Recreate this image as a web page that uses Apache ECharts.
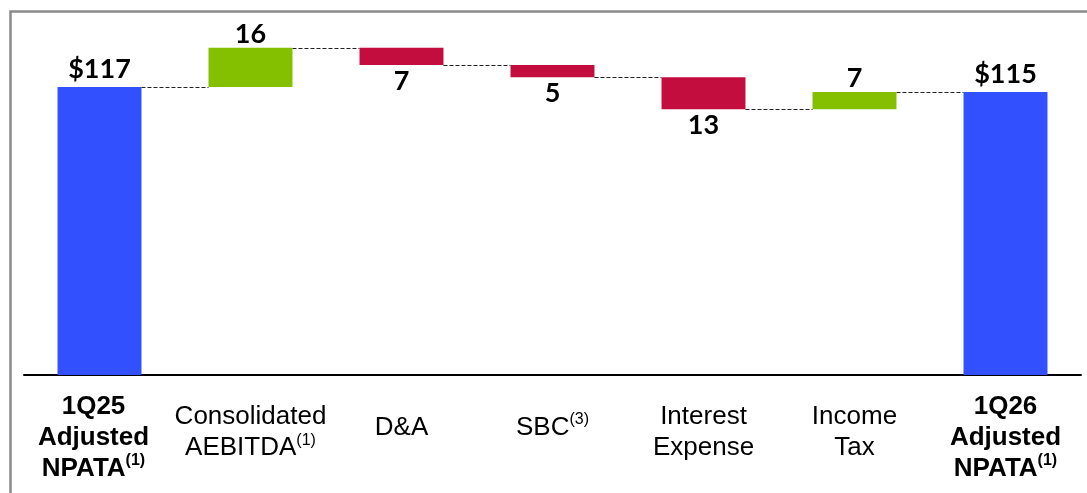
<!DOCTYPE html>
<html>
<head>
<meta charset="utf-8">
<title>Adjusted NPATA bridge</title>
<script src="https://cdn.jsdelivr.net/npm/echarts@6/dist/echarts.min.js"></script>
<style>
  html, body { margin: 0; padding: 0; background: #fff; }
  #main { width: 1087px; height: 493px; }
</style>
</head>
<body>
<div id="main"></div>
<script>
// axis categories, one entry per printed line
const categoryLines = [
    ['1Q25', 'Adjusted', 'NPATA'],
    ['Consolidated', 'AEBITDA'],
    ['D&A'],
    ['SBC'],
    ['Interest', 'Expense'],
    ['Income', 'Tax'],
    ['1Q26', 'Adjusted', 'NPATA']
];
const footnotes = ['(1)', '(1)', '', '(3)', '', '', '(1)'];
const isTotal = [true, false, false, false, false, false, true];

// values
const startValue = 117;
const changes = [16, -7, -5, -13, 7];
const endValue = 115;
const valueLabels = ['$117', '16', '7', '5', '13', '7', '$115'];

const BLUE = '#3350ff';
const GREEN = '#84c000';
const RED = '#c30d3e';
const BAR_RATIO = 0.556;

// build the waterfall: invisible base + visible bar
const baseData = [];
const barData = [];
const levels = [];

let running = startValue;
baseData.push(0);
barData.push({ value: startValue, itemStyle: { color: BLUE }, label: { position: 'top', distance: 4 } });
levels.push(running);

changes.forEach(c => {
    const next = running + c;
    baseData.push(Math.min(running, next));
    barData.push({
        value: Math.abs(c),
        itemStyle: { color: c > 0 ? GREEN : RED },
        label: { position: c > 0 ? 'top' : 'bottom', distance: c > 0 ? 0 : 3 }
    });
    running = next;
    levels.push(running);
});

baseData.push(0);
barData.push({ value: endValue, itemStyle: { color: BLUE }, label: { position: 'top', distance: 4 } });

// connectors go from bar i to bar i+1
const connectorData = levels.map((v, i) => [i, v]);

// vertical offset of each axis label block (fewer lines sit lower)
const labelPadTop = categoryLines.map(l => (3 - l.length) * 10.5);

const xData = categoryLines.map((lines, i) => ({
    value: lines.join(' '),
    textStyle: { padding: [labelPadTop[i], i === 0 ? 12 : 0, 0, 0] }
}));

const chart = echarts.init(document.getElementById('main'));

chart.setOption({
    animation: false,
    backgroundColor: '#fff',
    graphic: [{
        type: 'rect',
        silent: true,
        shape: { x: 10.5, y: 11.5, width: 1200, height: 600 },
        style: { fill: 'none', stroke: '#8a8a8a', lineWidth: 2.5 }
    }],
    grid: { left: 24, right: 6, top: 30.5, bottom: 118, outerBoundsMode: 'none' },
    xAxis: {
        type: 'category',
        data: xData,
        axisLine: { lineStyle: { color: '#000', width: 2 } },
        axisTick: { show: false },
        axisLabel: {
            interval: 0,
            margin: 16,
            verticalAlign: 'top',
            formatter: (value, idx) => {
                const lines = categoryLines[idx];
                const t = isTotal[idx] ? 'b' : 'n';
                const s = isTotal[idx] ? 'bs' : 's';
                return lines.map((ln, k) => {
                    let str = '{' + t + '|' + ln + '}';
                    if (k === lines.length - 1 && footnotes[idx]) {
                        str += '{' + s + '|' + footnotes[idx] + '}';
                    }
                    return str;
                }).join('\n');
            },
            rich: {
                n: { fontFamily: 'Liberation Sans', fontSize: 26, lineHeight: 31, color: '#000' },
                b: { fontFamily: 'Liberation Sans', fontSize: 26, lineHeight: 31, fontWeight: 'bold', color: '#000' },
                s: { fontFamily: 'Liberation Sans', fontSize: 16, lineHeight: 26, verticalAlign: 'top', color: '#000' },
                bs: { fontFamily: 'Liberation Sans', fontSize: 16, lineHeight: 26, verticalAlign: 'top', fontWeight: 'bold', color: '#000' }
            }
        }
    },
    yAxis: {
        type: 'value',
        min: 0,
        max: 140,
        show: false,
        splitLine: { show: false }
    },
    series: [
        {
            name: 'base',
            type: 'bar',
            stack: 'w',
            barWidth: (BAR_RATIO * 100) + '%',
            itemStyle: { color: 'transparent' },
            emphasis: { disabled: true },
            data: baseData
        },
        {
            name: 'value',
            type: 'bar',
            stack: 'w',
            barWidth: (BAR_RATIO * 100) + '%',
            data: barData,
            label: {
                show: true,
                fontFamily: 'Lato',
                fontWeight: 'bold',
                fontSize: 27,
                color: '#000',
                formatter: p => valueLabels[p.dataIndex]
            }
        },
        {
            name: 'connector',
            type: 'custom',
            clip: false,
            silent: true,
            data: connectorData,
            renderItem: (params, api) => {
                const pt = api.coord([api.value(0), api.value(1)]);
                const band = api.size([1, 0])[0];
                const half = band * BAR_RATIO / 2;
                const y = Math.round(pt[1]) + 0.5;
                return {
                    type: 'line',
                    shape: { x1: pt[0] + half, y1: y, x2: pt[0] + band - half, y2: y },
                    style: { stroke: '#222', lineWidth: 1, lineDash: [4, 2] }
                };
            }
        }
    ]
});
</script>
</body>
</html>
